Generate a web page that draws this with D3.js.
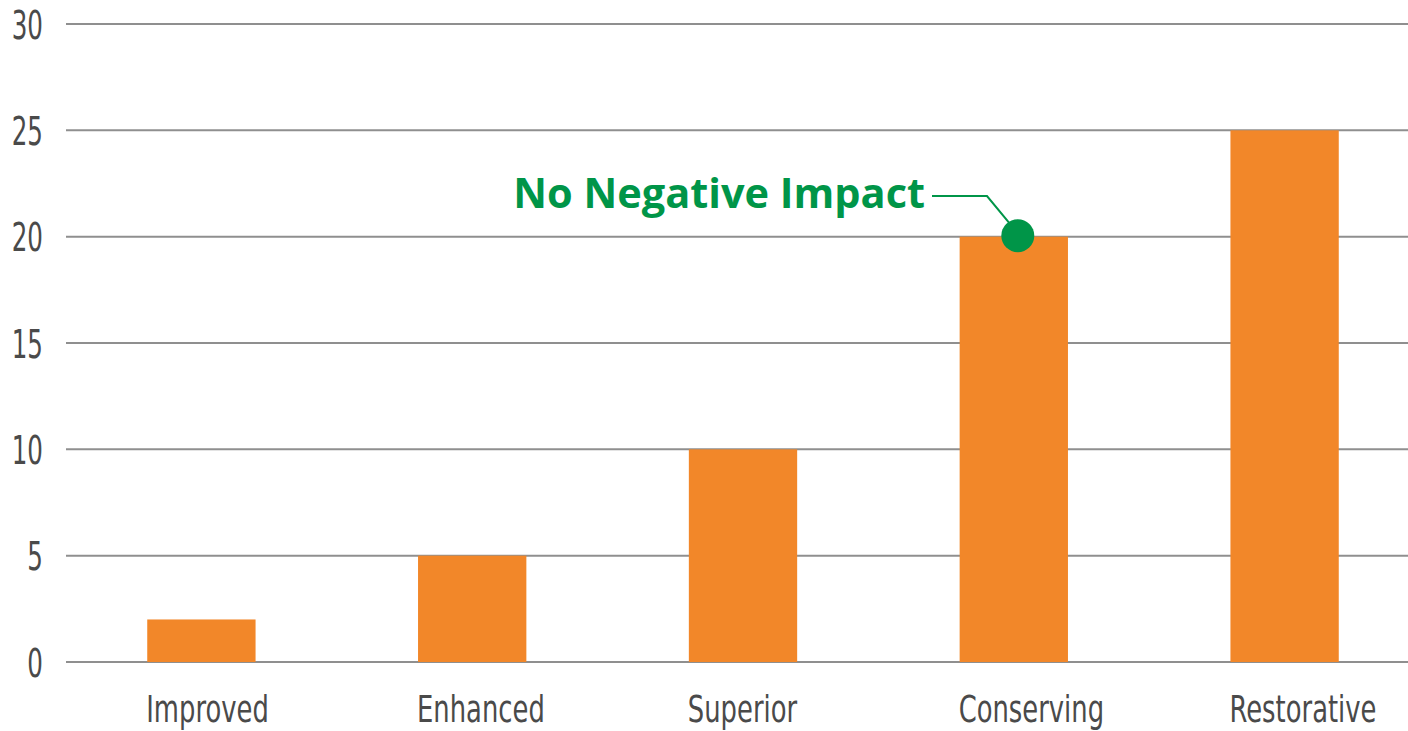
<!DOCTYPE html>
<html>
<head>
<meta charset="utf-8">
<script src="https://cdn.jsdelivr.net/npm/d3@7"></script>
<style>
  html, body { margin: 0; padding: 0; background: #fff; }
  svg { display: block; }
</style>
</head>
<body>
<svg id="chart" width="1408" height="731"></svg>
<script>
// Performance levels and their scores
const categories = ["Improved", "Enhanced", "Superior", "Conserving", "Restorative"];
const values = [2, 5, 10, 20, 25];
const yTicks = [0, 5, 10, 15, 20, 25, 30];
const annotationText = "No Negative Impact";
const annotationCategory = "Conserving";
const annotationValue = 20;

const svg = d3.select("#chart");
const W = 1408;

const x = d3.scaleBand()
  .domain(categories)
  .range([66, 1420])
  .paddingInner(0.6)
  .paddingOuter(0.3);

const y = d3.scaleLinear()
  .domain([0, 30])
  .range([662, 24]);

const labelFont = "'DejaVu Sans', sans-serif";
const labelColor = "#4a4a4a";

// Horizontal gridlines
svg.append("g")
  .selectAll("line")
  .data(yTicks)
  .join("line")
  .attr("x1", 66)
  .attr("x2", W)
  .attr("y1", d => y(d))
  .attr("y2", d => y(d))
  .attr("stroke", "#8f8f8f")
  .attr("stroke-width", 2);

// Y axis labels (condensed look via horizontal scaling)
const yAxis = d3.axisLeft(y).tickValues(yTicks).tickSize(0).tickPadding(0);
const gy = svg.append("g").attr("transform", "translate(43,0)").call(yAxis);
gy.select(".domain").remove();
gy.selectAll("text")
  .attr("x", 0)
  .attr("dy", "0.36em")
  .attr("transform", "scale(0.63,1)")
  .attr("fill", labelColor)
  .style("font-family", labelFont)
  .style("font-size", "39px");

// Bars
svg.append("g")
  .selectAll("rect")
  .data(categories.map((c, i) => ({ c, v: values[i] })))
  .join("rect")
  .attr("x", d => x(d.c))
  .attr("width", x.bandwidth())
  .attr("y", d => y(d.v))
  .attr("height", d => y(0) - y(d.v))
  .attr("fill", "#f28729");

// X axis labels, left-aligned with each bar's left edge
const xAxis = d3.axisBottom(x).tickSize(0).tickPadding(0);
const gx = svg.append("g").attr("transform", `translate(0,${y(0)})`).call(xAxis);
gx.select(".domain").remove();
gx.selectAll("text")
  .attr("x", 0)
  .attr("y", 0)
  .attr("dy", 0)
  .attr("text-anchor", "start")
  .attr("transform", `translate(${-x.bandwidth() / 2 - 1},60) scale(0.68,1)`)
  .attr("fill", labelColor)
  .style("font-family", labelFont)
  .style("font-size", "38px");

// Annotation: dot on the Conserving bar with a leader line to the label
const green = "#009548";
const dotX = x(annotationCategory) + x.bandwidth() / 2 + 4;
const dotY = y(annotationValue) - 1;
const lineY = 196;

svg.append("polyline")
  .attr("points", [[932, lineY], [987, lineY], [dotX - 8, dotY - 12]].map(p => p.join(",")).join(" "))
  .attr("fill", "none")
  .attr("stroke", green)
  .attr("stroke-width", 2);

svg.append("circle")
  .attr("cx", dotX)
  .attr("cy", dotY)
  .attr("r", 16.5)
  .attr("fill", green);

svg.append("text")
  .attr("x", 925)
  .attr("y", 208)
  .attr("text-anchor", "end")
  .attr("fill", green)
  .style("font-family", "'Open Sans', sans-serif")
  .style("font-weight", 700)
  .style("font-size", "41.5px")
  .text(annotationText);
</script>
</body>
</html>
